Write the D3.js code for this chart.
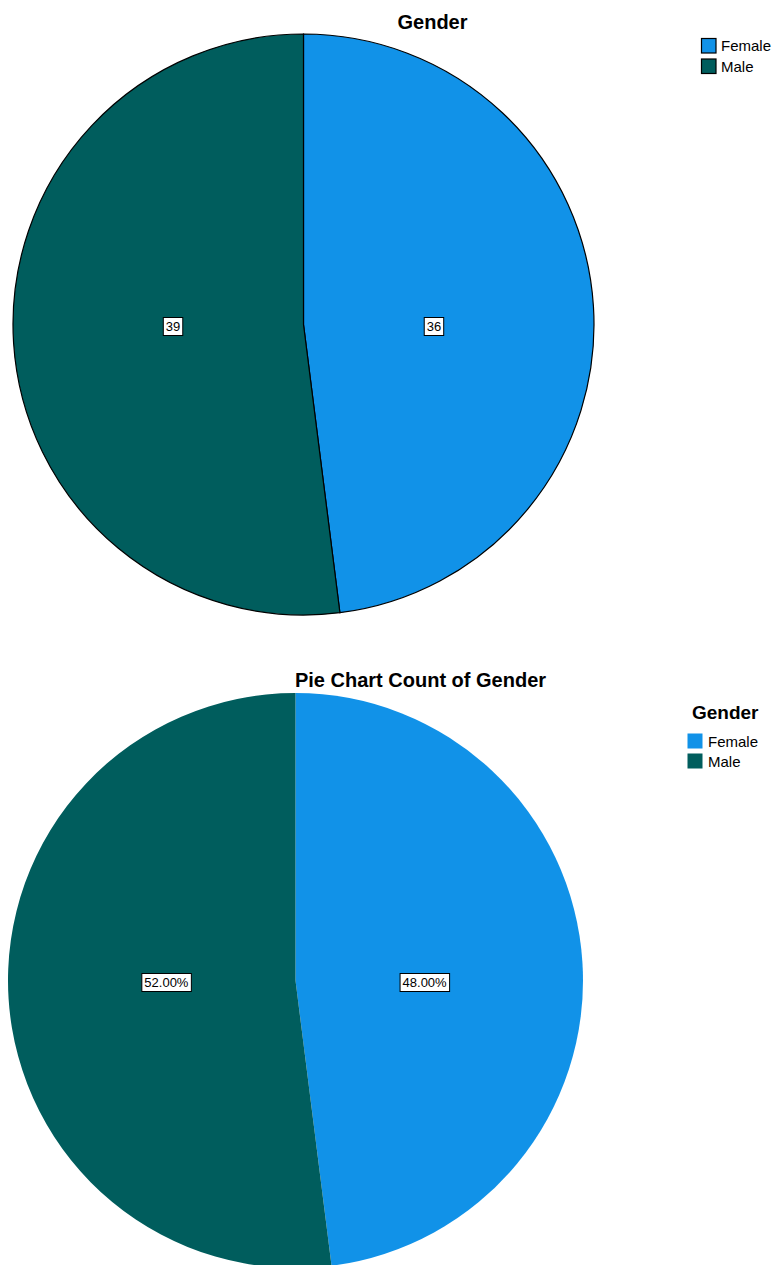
<!DOCTYPE html>
<html><head><meta charset="utf-8">
<script src="https://cdn.jsdelivr.net/npm/d3@7"></script>
<style>body{margin:0;background:#fff}svg{display:block}</style>
</head><body>
<script>
const categories = ["Female", "Male"];
const counts = [36, 39];
const percents = [48.00, 52.00];
const colors = ["#1192e8", "#005d5d"];

const W = 775, H = 1265;
const svg = d3.select("body").append("svg").attr("width", W).attr("height", H)
  .style("font-family", "'Liberation Sans', Arial, sans-serif");

const pie = d3.pie().sort(null).value(d => d.v);
const color = d3.scaleOrdinal().domain(categories).range(colors);

function drawPie(cfg) {
  const data = categories.map((c, i) => ({c, v: cfg.values[i], label: cfg.labels[i]}));
  const arcs = pie(data);
  const arc = d3.arc().innerRadius(0).outerRadius(cfg.r);
  const labelArc = d3.arc().innerRadius(cfg.r * 0.45).outerRadius(cfg.r * 0.45);
  const g = svg.append("g").attr("transform", `translate(${cfg.cx},${cfg.cy})`);
  g.selectAll("path").data(arcs).join("path")
    .attr("d", arc)
    .attr("fill", d => color(d.data.c))
    .attr("stroke", cfg.stroke ? "#000" : "none")
    .attr("stroke-width", cfg.stroke ? 1.2 : 0);
  const lg = g.selectAll("g.lbl").data(arcs).join("g").attr("class", "lbl")
    .attr("transform", d => { const c = labelArc.centroid(d); return `translate(${c[0]},2)`; });
  lg.each(function(d) {
    const s = d3.select(this);
    const t = s.append("text").text(d.data.label)
      .attr("text-anchor", "middle").attr("dy", "0.36em")
      .attr("font-size", 13).attr("fill", "#000");
    const bb = t.node().getBBox();
    s.insert("rect", "text")
      .attr("x", bb.x - 2.5).attr("y", -9).attr("width", bb.width + 5).attr("height", 18)
      .attr("fill", "#fff").attr("stroke", "#000").attr("stroke-width", 1);
  });
  svg.append("text").text(cfg.title).attr("x", cfg.tx).attr("y", cfg.ty)
    .attr("text-anchor", "middle").attr("font-weight", "bold").attr("font-size", 20).attr("fill", "#000");
}

drawPie({cx: 303.5, cy: 324.5, r: 290.5, values: counts, labels: counts.map(String),
  stroke: true, title: "Gender", tx: 432.5, ty: 29});
drawPie({cx: 295.5, cy: 980.5, r: 287.5, values: counts, labels: percents.map(p => p.toFixed(2) + "%"),
  stroke: false, title: "Pie Chart Count of Gender", tx: 420.5, ty: 687});

// Legend top
const lt = svg.append("g");
categories.forEach((c, i) => {
  lt.append("rect").attr("x", 701.5).attr("y", 38.5 + i * 20.5).attr("width", 14.5).attr("height", 14.5)
    .attr("fill", color(c)).attr("stroke", "#000").attr("stroke-width", 1.2);
  lt.append("text").text(c).attr("x", 721).attr("y", 51 + i * 20.5)
    .attr("font-size", 15).attr("fill", "#000");
});
// Legend bottom
const lb = svg.append("g");
lb.append("text").text("Gender").attr("x", 692).attr("y", 719)
  .attr("font-weight", "bold").attr("font-size", 19).attr("fill", "#000");
categories.forEach((c, i) => {
  lb.append("rect").attr("x", 687.5).attr("y", 733.5 + i * 20).attr("width", 15).attr("height", 15)
    .attr("fill", color(c));
  lb.append("text").text(c).attr("x", 708).attr("y", 746.5 + i * 20)
    .attr("font-size", 15).attr("fill", "#000");
});
</script>
</body></html>
